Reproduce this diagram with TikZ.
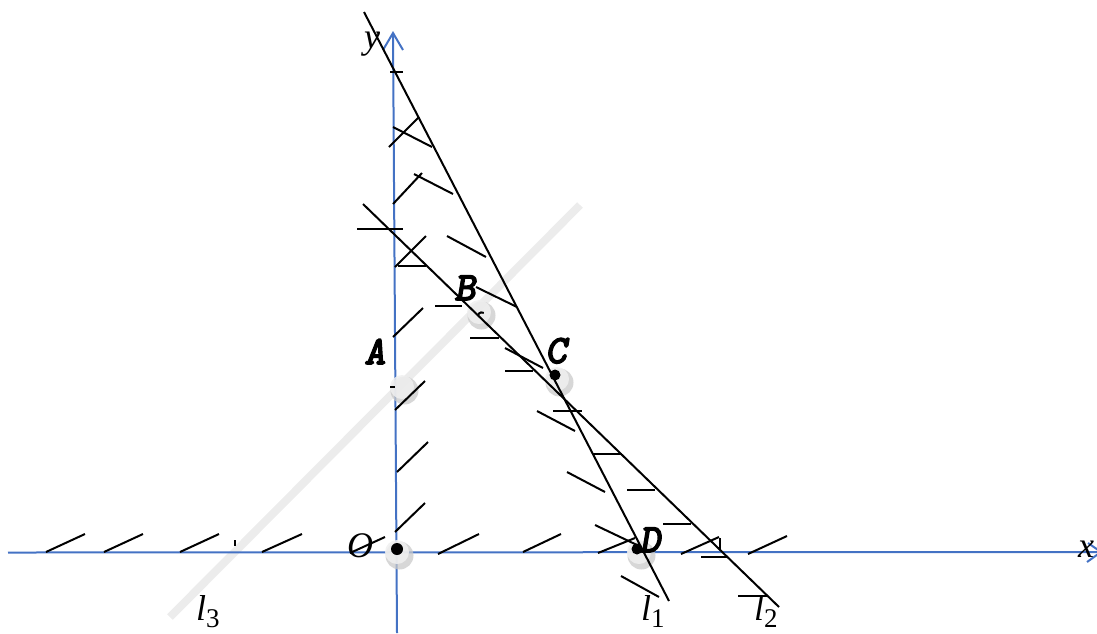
\documentclass[tikz,border=0pt]{standalone}
\usepackage{fontspec}
\setmainfont{Liberation Serif}
\newfontfamily\courbi{lmmonoslant10-regular.otf}[FakeBold=4]
\definecolor{axisblue}{RGB}{68,114,196}
\definecolor{lthree}{RGB}{236,236,236}
\begin{document}
\begin{tikzpicture}[x=1pt,y=-1pt,
  axis/.style={draw=axisblue, line width=2pt},
  lineblk/.style={draw=black, line width=2pt},
  hatch/.style={draw=black, line width=2pt},
  glab/.style={font=\fontsize{36}{36}\selectfont\itshape, inner sep=0pt},
  plab/.style={font=\fontsize{40}{40}\selectfont\courbi, inner sep=0pt},
  gball/.pic={\fill[gray!42,fill opacity=.75] (1.5,2.5) circle (14);
              \fill[gray!12,fill opacity=.85] (-1,-1) circle (12);}]
\useasboundingbox (0,0) rectangle (1097,633);
% l3 (light gray)
\coordinate (l3a) at (170,617); \coordinate (l3b) at (580,205);
\draw[lthree, line width=8pt] (l3a) -- (l3b);
% axes
\coordinate (xl) at (8,552.5); \coordinate (xr) at (1101,552);
\coordinate (yb) at (397,633); \coordinate (yt) at (393,33);
\draw[axis] (xl) -- (xr);
\draw[axis] (1088,543) -- (xr) -- (1087,562);
\draw[axis] (yb) -- (yt);
\draw[axis] (383,50) -- (yt) -- (403,50);
% balls
\pic at (398,553) {gball};
\pic at (558,380) {gball};
\pic at (640,553) {gball};
\pic at (480,313) {gball};
\pic at (403,388) {gball};
% l1, l2
\coordinate (l1a) at (364,12); \coordinate (l1b) at (669,601);
\coordinate (l2a) at (363,204); \coordinate (l2b) at (779,607);
\draw[lineblk] (l1a) -- (l1b);
\draw[lineblk] (l2a) -- (l2b);
% hatch marks
\draw[hatch] (390,72) -- (403,72);
\draw[hatch] (393,127) -- (432,147);
\draw[hatch] (389,147) -- (419,117);
\draw[hatch] (393,204) -- (422,173);
\draw[hatch] (414,174) -- (453,194);
\draw[hatch] (357,229) -- (403,229);
\draw[hatch] (395,267) -- (426,236);
\draw[hatch] (398,266) -- (426,266);
\draw[hatch] (447,236) -- (486,257);
\draw[hatch] (393,337) -- (423,308);
\draw[hatch] (435,306) -- (462,306);
\draw[hatch] (476,287) -- (517,307);
\draw[hatch] (470,338) -- (499,338);
\draw[hatch] (505,348) -- (543,368);
\draw[hatch] (505,371) -- (533,371);
\draw[hatch] (395,410) -- (425,381);
\draw[hatch] (390,387) -- (395,387);
\draw[hatch] (478,315) arc[start angle=200, end angle=300, radius=4];
\draw[hatch] (553,411) -- (582,411);
\draw[hatch] (537,411) -- (575,431);
\draw[hatch] (593,454) -- (622,454);
\draw[hatch] (567,472) -- (605,492);
\draw[hatch] (627,490) -- (655,490);
\draw[hatch] (663,524) -- (691,524);
\draw[hatch] (595,525) -- (637,545);
\draw[hatch] (523,552) -- (561,534);
\draw[hatch] (598,553) -- (635,538);
\draw[hatch] (681,554) -- (719,537);
\draw[hatch] (720,538) -- (720,550);
\draw[hatch] (701,557) -- (728,557);
\draw[hatch] (748,554) -- (787,536);
\draw[hatch] (621,576) -- (659,597);
\draw[hatch] (738,596) -- (768,596);
\draw[hatch] (397,472) -- (428,442);
\draw[hatch] (395,532) -- (425,503);
\draw[hatch] (438,554) -- (479,534);
\draw[hatch] (350,553) -- (385,537);
\draw[hatch] (46,552) -- (85,534);
\draw[hatch] (104,552) -- (143,534);
\draw[hatch] (180,552) -- (219,534);
\draw[hatch] (235,540) -- (235,546);
\draw[hatch] (262,552) -- (302,534);
% black dots
\fill (397,549) circle (6);
\fill (555,375) circle (5.5);
\fill (637,549) circle (5.5);
% labels
\node[glab, anchor=base] (ylab) at (372,48) {y};
\node[glab, anchor=base] (xlab) at (1086,557) {x};
\node[glab, anchor=base] (olab) at (360,557) {O};
\node[glab, anchor=base west] (l1lab) at (641,620) {l\raisebox{-7pt}{\fontsize{27}{27}\selectfont\upshape 1}};
\node[glab, anchor=base west] (l2lab) at (754,620) {l\raisebox{-7pt}{\fontsize{27}{27}\selectfont\upshape 2}};
\node[glab, anchor=base west] (l3lab) at (196,620) {l\raisebox{-7pt}{\fontsize{27}{27}\selectfont\upshape 3}};
\node[plab, anchor=base] (alab) at (375,364) {A};
\node[plab, anchor=base] (blab) at (465,300) {B};
\node[plab, anchor=base] (clab) at (556,363) {C};
\node[plab, anchor=base] (dlab) at (650,552) {D};
\end{tikzpicture}
\end{document}
